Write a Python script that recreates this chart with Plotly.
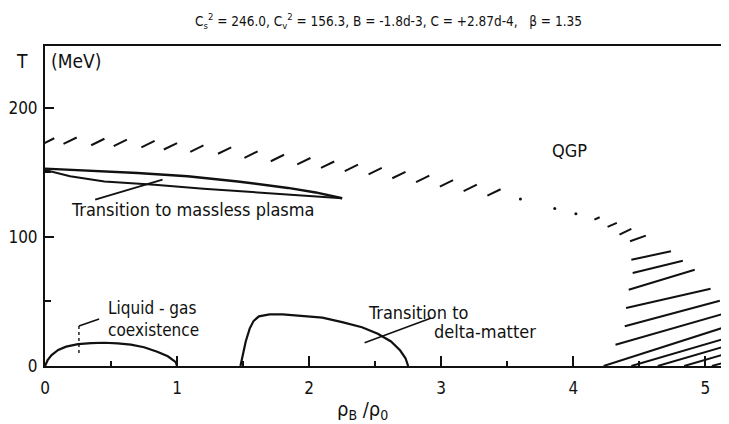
import plotly.graph_objects as go

# ---------------- data ----------------
x_tick_vals = [0, 1, 2, 3, 4, 5]
y_tick_vals = [0, 100, 200]

# liquid-gas coexistence boundary
lg_x = [0.0, 0.02, 0.05, 0.10, 0.16, 0.25, 0.35, 0.45, 0.55, 0.65, 0.75, 0.85, 0.93, 0.99, 1.0]
lg_T = [0.0, 4.5, 8.5, 12.5, 15.0, 17.0, 17.8, 18.0, 17.6, 16.5, 14.5, 11.0, 7.5, 3.0, 0.0]

# transition to delta matter
dm_x = [1.48, 1.50, 1.52, 1.55, 1.58, 1.62, 1.70, 1.80, 1.95, 2.10, 2.25, 2.40, 2.52, 2.62, 2.69, 2.73, 2.75]
dm_T = [0.0, 10.0, 19.0, 29.0, 35.0, 38.5, 40.0, 40.0, 39.0, 37.5, 34.0, 30.0, 25.0, 19.0, 12.0, 6.0, 0.0]

# transition to massless plasma (thin lens: upper and lower branch)
mp_up_x = [0.0, 0.32, 0.70, 1.08, 1.46, 1.84, 2.05, 2.25]
mp_up_T = [153.0, 151.4, 149.6, 147.0, 143.0, 138.0, 134.5, 130.0]
mp_lo_x = [0.0, 0.19, 0.45, 0.83, 1.20, 1.71, 2.00, 2.25]
mp_lo_T = [152.0, 147.0, 143.0, 140.5, 137.4, 134.0, 132.0, 130.0]

# QGP boundary, drawn as short slanted strokes: stroke centres
qgp_x = [0.02, 0.19, 0.40, 0.57, 0.78, 0.95, 1.15, 1.36, 1.56, 1.76, 1.96, 2.14, 2.32,
         2.50, 2.68, 2.86, 3.04, 3.22, 3.40]
qgp_T = [174.0, 174.6, 173.6, 172.9, 172.0, 170.3, 168.5, 167.0, 163.8, 161.2, 158.7, 156.0, 153.5,
         151.0, 148.0, 145.0, 141.5, 138.0, 134.5]
# dots along the boundary
qgp_dot_x = [3.60, 3.86, 4.02]
qgp_dot_T = [129.5, 122.0, 118.0]

# hatched mixed-phase region at high density: stroke end points
hatch_x0 = [4.16, 4.26, 4.35, 4.43, 4.44, 4.45, 4.42, 4.40, 4.39, 4.32, 4.23, 4.44, 4.64, 4.84, 5.05]
hatch_T0 = [113.4, 107.8, 101.8, 96.7, 82.4, 72.1, 59.1, 45.0, 30.8, 16.5, 0.0, 0.0, 0.0, 0.0, 0.0]
hatch_x1 = [4.20, 4.33, 4.44, 4.55, 4.74, 4.83, 4.92, 5.04, 5.11, 5.13, 5.17, 5.24, 5.24, 5.24, 5.24]
hatch_T1 = [115.3, 110.9, 106.2, 101.0, 88.9, 81.6, 74.6, 59.9, 50.6, 40.3, 30.8, 24.0, 18.0, 12.0, 5.5]

# leader lines from labels
lead_mp_x = [0.38, 0.89]
lead_mp_T = [129.0, 144.4]
lead_lg_x = [0.41, 0.257]
lead_lg_T = [36.4, 31.0]
lead_lg_v_x = [0.257, 0.257]
lead_lg_v_T = [31.0, 10.0]
lead_dm_x = [2.42, 2.92]
lead_dm_T = [18.0, 37.0]

FONT = "DejaVu Sans Condensed, DejaVu Sans, sans-serif"
INK = "#111111"

W, H = 729, 424
ML, MR, MT, MB = 37, 0, 38, 66

fig = go.Figure()


def add_line(xs, ys, width=2.0, dash="solid"):
    fig.add_trace(go.Scatter(x=xs, y=ys, mode="lines", showlegend=False, hoverinfo="skip",
                             line=dict(color=INK, width=width, dash=dash)))


def segments(x0, y0, x1, y1):
    xs, ys = [], []
    for a, b, c, d in zip(x0, y0, x1, y1):
        xs += [a, c, None]
        ys += [b, d, None]
    return xs, ys


def px(xp):
    return (xp - ML) / (W - ML - MR)


def py(yp):
    return (H - MB - yp) / (H - MT - MB)


add_line(lg_x, lg_T, 2.2)
add_line(dm_x, dm_T, 2.2)
add_line(mp_up_x, mp_up_T, 2.4)
add_line(mp_lo_x, mp_lo_T, 2.0)

# QGP strokes: "/" marks centred on the boundary points
half_dx, half_dT = 0.05, 2.5
sx, sy = segments([x - half_dx for x in qgp_x], [t - half_dT for t in qgp_T],
                  [x + half_dx for x in qgp_x], [t + half_dT for t in qgp_T])
add_line(sx, sy, 2.0)
fig.add_trace(go.Scatter(x=qgp_dot_x, y=qgp_dot_T, mode="markers", showlegend=False, hoverinfo="skip",
                         marker=dict(color=INK, size=3)))

hx, hy = segments(hatch_x0, hatch_T0, hatch_x1, hatch_T1)
add_line(hx, hy, 2.0)

add_line(lead_mp_x, lead_mp_T, 1.8)
add_line(lead_lg_x, lead_lg_T, 1.6)
add_line(lead_lg_v_x, lead_lg_v_T, 1.4, "dot")
add_line(lead_dm_x, lead_dm_T, 1.6)

text_items = [
    ("Transition to massless plasma", 0.18, 121.0, "left", 18),
    ("Liquid - gas<br>coexistence", 0.46, 36.4, "left", 17),
    ("Transition to", 2.43, 41.5, "left", 18),
    ("delta-matter", 2.93, 27.0, "left", 18),
    ("QGP", 3.97, 167.0, "center", 18),
    ("(MeV)", 0.03, 236.0, "left", 19),
]
for txt, xv, yv, anc, sz in text_items:
    fig.add_annotation(x=xv, y=yv, xref="x", yref="y", text=txt, showarrow=False, align="left",
                       xanchor=anc, yanchor="middle", font=dict(family=FONT, size=sz, color=INK))

fig.add_annotation(x=px(14), y=py(53), xref="paper", yref="paper", text="T", showarrow=False,
                   xanchor="center", yanchor="middle", font=dict(family=FONT, size=19, color=INK))
fig.add_annotation(x=px(380), y=py(13), xref="paper", yref="paper",
                   text="C<sub>s</sub><sup>2</sup> = 246.0, C<sub>v</sub><sup>2</sup> = 156.3, B = -1.8d-3, C = +2.87d-4,   β = 1.35",
                   showarrow=False, xanchor="center", yanchor="middle",
                   font=dict(family=FONT, size=13.5, color=INK))
fig.add_annotation(x=px(354), y=py(402), xref="paper", yref="paper",
                   text="ρ<sub>B</sub> /ρ<sub>0</sub>", showarrow=False, xanchor="center", yanchor="middle",
                   font=dict(family=FONT, size=20, color=INK))

fig.update_xaxes(range=[0, 5.24], tickvals=x_tick_vals, ticks="inside", ticklen=10, tickwidth=2,
                 tickcolor=INK, showline=True, linewidth=2, linecolor=INK, mirror=True,
                 showgrid=False, zeroline=False, ticklabelstandoff=6, automargin=False,
                 minor=dict(ticks="inside", ticklen=5, tickwidth=1.5, tickcolor=INK, dtick=0.5, showgrid=False),
                 tickfont=dict(family=FONT, size=17, color=INK))
fig.update_yaxes(range=[0, 248], tickvals=y_tick_vals, ticks="inside", ticklen=9, tickwidth=2,
                 tickcolor=INK, showline=True, linewidth=2, linecolor=INK, mirror=False,
                 showgrid=False, zeroline=False, ticklabelstandoff=2, automargin=False,
                 minor=dict(ticks="inside", ticklen=6, tickwidth=1.5, tickcolor=INK, dtick=50, showgrid=False),
                 tickfont=dict(family=FONT, size=17, color=INK))

fig.update_layout(width=W, height=H, margin=dict(l=ML, r=MR, t=MT, b=MB),
                  paper_bgcolor="white", plot_bgcolor="white", showlegend=False)

fig.write_html("out.html")
